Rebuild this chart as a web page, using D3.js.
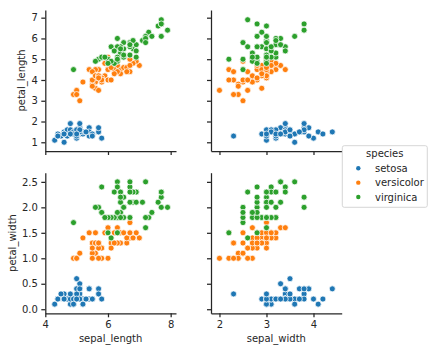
<!DOCTYPE html>
<html>
<head>
<meta charset="utf-8">
<script src="https://cdn.jsdelivr.net/npm/d3@7"></script>
<style>
  body { margin: 0; background: #fff; }
  text { font-family: "DejaVu Sans", sans-serif; fill: #262626; }
</style>
</head>
<body>
<div id="chart"></div>
<script>
// species and how many rows each has (rows are in this order)
var species = ["setosa", "versicolor", "virginica"];
var speciesCounts = [50, 50, 50];
var colors = ["#1f77b4", "#ff7f0e", "#2ca02c"];

var sepalLength = [
  5.1,4.9,4.7,4.6,5.0,5.4,4.6,5.0,4.4,4.9,5.4,4.8,4.8,4.3,5.8,5.7,5.4,5.1,5.7,5.1,5.4,5.1,4.6,5.1,4.8,
  5.0,5.0,5.2,5.2,4.7,4.8,5.4,5.2,5.5,4.9,5.0,5.5,4.9,4.4,5.1,5.0,4.5,4.4,5.0,5.1,4.8,5.1,4.6,5.3,5.0,
  7.0,6.4,6.9,5.5,6.5,5.7,6.3,4.9,6.6,5.2,5.0,5.9,6.0,6.1,5.6,6.7,5.6,5.8,6.2,5.6,5.9,6.1,6.3,6.1,6.4,
  6.6,6.8,6.7,6.0,5.7,5.5,5.5,5.8,6.0,5.4,6.0,6.7,6.3,5.6,5.5,5.5,6.1,5.8,5.0,5.6,5.7,5.7,6.2,5.1,5.7,
  6.3,5.8,7.1,6.3,6.5,7.6,4.9,7.3,6.7,7.2,6.5,6.4,6.8,5.7,5.8,6.4,6.5,7.7,7.7,6.0,6.9,5.6,7.7,6.3,6.7,
  7.2,6.2,6.1,6.4,7.2,7.4,7.9,6.4,6.3,6.1,7.7,6.3,6.4,6.0,6.9,6.7,6.9,5.8,6.8,6.7,6.7,6.3,6.5,6.2,5.9
];
var sepalWidth = [
  3.5,3.0,3.2,3.1,3.6,3.9,3.4,3.4,2.9,3.1,3.7,3.4,3.0,3.0,4.0,4.4,3.9,3.5,3.8,3.8,3.4,3.7,3.6,3.3,3.4,
  3.0,3.4,3.5,3.4,3.2,3.1,3.4,4.1,4.2,3.1,3.2,3.5,3.6,3.0,3.4,3.5,2.3,3.2,3.5,3.8,3.0,3.8,3.2,3.7,3.3,
  3.2,3.2,3.1,2.3,2.8,2.8,3.3,2.4,2.9,2.7,2.0,3.0,2.2,2.9,2.9,3.1,3.0,2.7,2.2,2.5,3.2,2.8,2.5,2.8,2.9,
  3.0,2.8,3.0,2.9,2.6,2.4,2.4,2.7,2.7,3.0,3.4,3.1,2.3,3.0,2.5,2.6,3.0,2.6,2.3,2.7,3.0,2.9,2.9,2.5,2.8,
  3.3,2.7,3.0,2.9,3.0,3.0,2.5,2.9,2.5,3.6,3.2,2.7,3.0,2.5,2.8,3.2,3.0,3.8,2.6,2.2,3.2,2.8,2.8,2.7,3.3,
  3.2,2.8,3.0,2.8,3.0,2.8,3.8,2.8,2.8,2.6,3.0,3.4,3.1,3.0,3.1,3.1,3.1,2.7,3.2,3.3,3.0,2.5,3.0,3.4,3.0
];
var petalLength = [
  1.4,1.4,1.3,1.5,1.4,1.7,1.4,1.5,1.4,1.5,1.5,1.6,1.4,1.1,1.2,1.5,1.3,1.4,1.7,1.5,1.7,1.5,1.0,1.7,1.9,
  1.6,1.6,1.5,1.4,1.6,1.6,1.5,1.5,1.4,1.5,1.2,1.3,1.4,1.3,1.5,1.3,1.3,1.3,1.6,1.9,1.4,1.6,1.4,1.5,1.4,
  4.7,4.5,4.9,4.0,4.6,4.5,4.7,3.3,4.6,3.9,3.5,4.2,4.0,4.7,3.6,4.4,4.5,4.1,4.5,3.9,4.8,4.0,4.9,4.7,4.3,
  4.4,4.8,5.0,4.5,3.5,3.8,3.7,3.9,5.1,4.5,4.5,4.7,4.4,4.1,4.0,4.4,4.6,4.0,3.3,4.2,4.2,4.2,4.3,3.0,4.1,
  6.0,5.1,5.9,5.6,5.8,6.6,4.5,6.3,5.8,6.1,5.1,5.3,5.5,5.0,5.1,5.3,5.5,6.7,6.9,5.0,5.7,4.9,6.7,4.9,5.7,
  6.0,4.8,4.9,5.6,5.8,6.1,6.4,5.6,5.1,5.6,6.1,5.6,5.5,4.8,5.4,5.6,5.1,5.1,5.9,5.7,5.2,5.0,5.2,5.4,5.1
];
var petalWidth = [
  0.2,0.2,0.2,0.2,0.2,0.4,0.3,0.2,0.2,0.1,0.2,0.2,0.1,0.1,0.2,0.4,0.4,0.3,0.3,0.3,0.2,0.4,0.2,0.5,0.2,
  0.2,0.4,0.2,0.2,0.2,0.2,0.4,0.1,0.2,0.2,0.2,0.2,0.1,0.2,0.2,0.3,0.3,0.2,0.6,0.4,0.3,0.2,0.2,0.2,0.2,
  1.4,1.5,1.5,1.3,1.5,1.3,1.6,1.0,1.3,1.4,1.0,1.5,1.0,1.4,1.3,1.4,1.5,1.0,1.5,1.1,1.8,1.3,1.5,1.2,1.3,
  1.4,1.4,1.7,1.5,1.0,1.1,1.0,1.2,1.6,1.5,1.6,1.5,1.3,1.3,1.3,1.2,1.4,1.2,1.0,1.3,1.2,1.3,1.3,1.1,1.3,
  2.5,1.9,2.1,1.8,2.2,2.1,1.7,1.8,1.8,2.5,2.0,1.9,2.1,2.0,2.4,2.3,1.8,2.2,2.3,1.5,2.3,2.0,2.0,1.8,2.1,
  1.8,1.8,1.8,2.1,1.6,1.9,2.0,2.2,1.5,1.4,2.3,2.4,1.8,1.8,2.1,2.4,2.3,1.9,2.3,2.5,2.3,1.9,2.0,2.3,1.8
];

// tick labels
var sepalLengthTicks = [4, 6, 8];
var sepalWidthTicks = [2, 3, 4];
var petalLengthTicks = [1, 2, 3, 4, 5, 6, 7];
var petalWidthTicks = [0, 0.5, 1.0, 1.5, 2.0, 2.5];

// build rows with species attached
var speciesOfRow = [];
speciesCounts.forEach(function(n, s) { for (var k = 0; k < n; k++) speciesOfRow.push(s); });
var rows = sepalLength.map(function(v, i) {
  return {
    sepal_length: v, sepal_width: sepalWidth[i],
    petal_length: petalLength[i], petal_width: petalWidth[i],
    species: speciesOfRow[i]
  };
});

var W = 432, H = 352;
var ink = "#262626";

var svg = d3.select("#chart").append("svg")
  .attr("width", W).attr("height", H);

// column (x) and row (y) definitions
var cols = [
  { key: "sepal_length", ticks: sepalLengthTicks, fmt: d3.format("d"),
    scale: d3.scaleLinear().domain([4.0, 8.17]).range([45.3, 176]) },
  { key: "sepal_width", ticks: sepalWidthTicks, fmt: d3.format("d"),
    scale: d3.scaleLinear().domain([1.82, 4.60]).range([211, 341.7]) }
];
var rowsDef = [
  { key: "petal_length", ticks: petalLengthTicks, fmt: d3.format("d"), labelX: 25.3,
    scale: d3.scaleLinear().domain([0.58, 7.37]).range([151, 10]) },
  { key: "petal_width", ticks: petalWidthTicks, fmt: d3.format(".1f"), labelX: 15.5,
    scale: d3.scaleLinear().domain([-0.08, 2.68]).range([313.3, 172.7]) }
];

function styleAxis(g) {
  g.select(".domain").attr("stroke", ink).attr("stroke-width", 1.25);
  g.selectAll(".tick line").attr("stroke", ink).attr("stroke-width", 1.25);
  g.selectAll(".tick text")
    .attr("fill", ink)
    .style("font-family", "DejaVu Sans, sans-serif")
    .style("font-size", "10px");
}

rowsDef.forEach(function(r, ri) {
  cols.forEach(function(c, ci) {
    var x = c.scale, y = r.scale;
    var panel = svg.append("g");

    // points, species in order
    panel.selectAll("circle")
      .data(rows)
      .enter().append("circle")
      .attr("cx", function(d) { return x(d[c.key]); })
      .attr("cy", function(d) { return y(d[r.key]); })
      .attr("r", 3)
      .attr("fill", function(d) { return colors[d.species]; })
      .attr("stroke", "#fff")
      .attr("stroke-width", 0.75);

    // x axis (labels only on bottom row)
    var xAxis = d3.axisBottom(x).tickValues(c.ticks).tickSize(4).tickPadding(3.5)
      .tickFormat(ri === rowsDef.length - 1 ? c.fmt : "")
      .tickSizeOuter(0);
    var gx = panel.append("g")
      .attr("transform", "translate(0," + y.range()[0] + ")")
      .call(xAxis);
    styleAxis(gx);

    // y axis (labels only on left column)
    var yAxis = d3.axisLeft(y).tickValues(r.ticks).tickSize(4).tickPadding(3.5)
      .tickFormat(ci === 0 ? r.fmt : "")
      .tickSizeOuter(0);
    var gy = panel.append("g")
      .attr("transform", "translate(" + x.range()[0] + ",0)")
      .call(yAxis);
    styleAxis(gy);

    // axis titles
    if (ri === rowsDef.length - 1) {
      panel.append("text")
        .attr("x", (x.range()[0] + x.range()[1]) / 2)
        .attr("y", 341.5)
        .attr("text-anchor", "middle")
        .style("font-size", "10px")
        .text(c.key);
    }
    if (ci === 0) {
      var cy = (y.range()[0] + y.range()[1]) / 2;
      panel.append("text")
        .attr("transform", "translate(" + r.labelX + "," + cy + ") rotate(-90)")
        .attr("text-anchor", "middle")
        .style("font-size", "10px")
        .text(r.key);
    }
  });
});

// legend
var legend = svg.append("g").attr("transform", "translate(342.3,145.7)");
legend.append("rect")
  .attr("width", 85).attr("height", 61.6)
  .attr("rx", 2)
  .attr("fill", "#fff")
  .attr("stroke", "#cccccc")
  .attr("stroke-width", 0.8);
legend.append("text")
  .attr("x", 42.5).attr("y", 11.5)
  .attr("text-anchor", "middle")
  .style("font-size", "10px")
  .text("species");
var items = legend.selectAll(".legend-item")
  .data(species)
  .enter().append("g")
  .attr("class", "legend-item")
  .attr("transform", function(d, i) { return "translate(0," + (22.6 + i * 14.35) + ")"; });
items.append("circle")
  .attr("cx", 16).attr("cy", 0).attr("r", 2.2)
  .attr("fill", function(d, i) { return colors[i]; });
items.append("text")
  .attr("x", 32.7).attr("y", 0)
  .attr("dy", "0.35em")
  .style("font-size", "10px")
  .text(function(d) { return d; });
</script>
</body>
</html>
